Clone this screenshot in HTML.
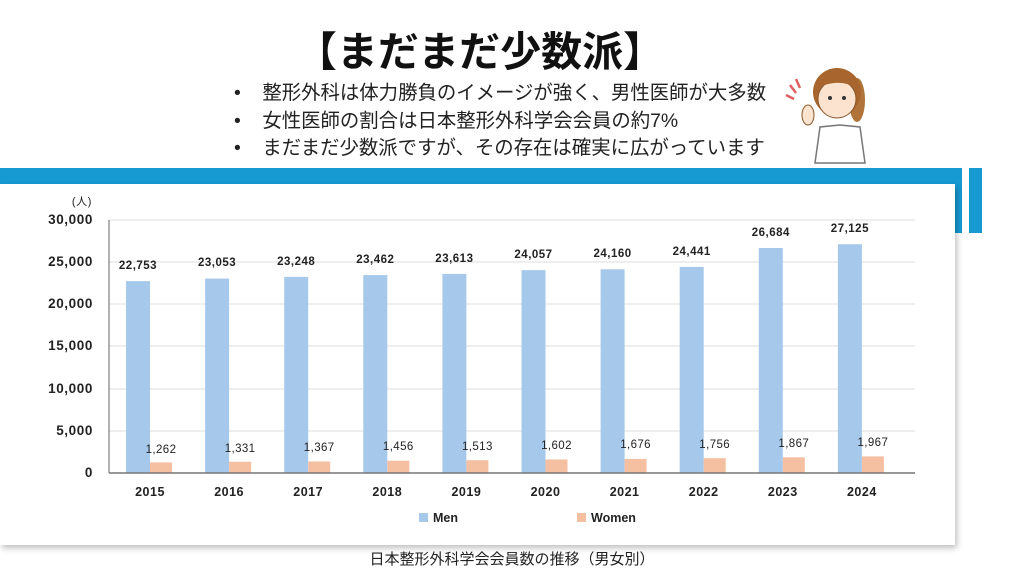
<!DOCTYPE html>
<html><head><meta charset="utf-8"><style>
body{margin:0;width:1024px;height:576px;background:#fff;position:relative;overflow:hidden;font-family:"Liberation Sans","Noto Sans CJK JP",sans-serif}
.t{position:absolute;white-space:nowrap}
</style></head><body>
<div class="t" style="left:0;width:960px;top:18px;text-align:center;font-size:41px;font-weight:bold;color:#111">【まだまだ少数派】</div>
<div class="t" style="left:234px;top:80px;font-size:19.4px;line-height:27.5px;color:#222">
•&nbsp;&nbsp;&nbsp;&nbsp;整形外科は体力勝負のイメージが強く、男性医師が大多数<br>
•&nbsp;&nbsp;&nbsp;&nbsp;女性医師の割合は日本整形外科学会会員の約7%<br>
•&nbsp;&nbsp;&nbsp;&nbsp;まだまだ少数派ですが、その存在は確実に広がっています</div>
<svg style="position:absolute;left:780px;top:55px" width="100" height="110">
<path d="M60 70 L40 72 L35 108 L85 108 L80 72 Z" fill="#fff" stroke="#777" stroke-width="1.5"/>
<ellipse cx="77" cy="45" rx="8" ry="22" fill="#b0743a"/>
<circle cx="57" cy="37" r="24" fill="#a8662e"/>
<ellipse cx="57" cy="44" rx="19" ry="19" fill="#fbe3cf" stroke="#8a5528"/>
<path d="M37 33 Q55 10 78 34 Q60 22 37 33Z" fill="#a8662e"/>
<circle cx="50" cy="43" r="2" fill="#333"/><circle cx="64" cy="43" r="2" fill="#333"/>
<ellipse cx="28" cy="60" rx="6" ry="10" fill="#fbe3cf" stroke="#8a5528"/>
<path d="M10 30 l6 8 M6 40 l8 4 M16 24 l4 9" stroke="#e06060" stroke-width="2.5"/>
</svg>
<div style="position:absolute;left:0;top:168px;width:962px;height:16px;background:#1799d2"></div>
<div style="position:absolute;left:955px;top:168px;width:7px;height:65px;background:#1799d2"></div>
<div style="position:absolute;left:969px;top:168px;width:13px;height:65px;background:#1799d2"></div>
<div style="position:absolute;left:0;top:184px;width:955px;height:361px;background:#fff;box-shadow:2px 3px 6px rgba(0,0,0,0.25)"></div>
<svg style="position:absolute;left:0;top:0" width="1024" height="576" font-family="Liberation Sans, Noto Sans CJK JP, sans-serif">
<g stroke="#ddd" stroke-width="1">
<line x1="109" x2="915" y1="220" y2="220"/><line x1="109" x2="915" y1="262" y2="262"/><line x1="109" x2="915" y1="304" y2="304"/><line x1="109" x2="915" y1="346" y2="346"/><line x1="109" x2="915" y1="389" y2="389"/><line x1="109" x2="915" y1="431" y2="431"/></g>
<line x1="109" x2="109" y1="220" y2="473" stroke="#666"/>
<g font-size="13.5" font-weight="bold" fill="#222" text-anchor="end" letter-spacing="0.6">
<text x="93" y="224">30,000</text><text x="93" y="266">25,000</text><text x="93" y="308">20,000</text><text x="93" y="350">15,000</text><text x="93" y="393">10,000</text><text x="93" y="435">5,000</text><text x="93" y="477">0</text>
<text x="92" y="205" font-weight="normal" font-size="11">(人)</text></g>
<g fill="#a6c9eb">
<rect x="126" y="281.1" width="24" height="191.9"/>
<rect x="205.1" y="278.6" width="24" height="194.4"/>
<rect x="284.2" y="276.9" width="24" height="196.1"/>
<rect x="363.3" y="275.1" width="24" height="197.9"/>
<rect x="442.4" y="273.9" width="24" height="199.1"/>
<rect x="521.5" y="270.1" width="24" height="202.9"/>
<rect x="600.6" y="269.3" width="24" height="203.7"/>
<rect x="679.7" y="266.9" width="24" height="206.1"/>
<rect x="758.8" y="248.0" width="24" height="225.0"/>
<rect x="837.9" y="244.2" width="24" height="228.8"/>
</g>
<g fill="#f5bfa1">
<rect x="150" y="462.4" width="22" height="10.6"/>
<rect x="229.1" y="461.8" width="22" height="11.2"/>
<rect x="308.2" y="461.5" width="22" height="11.5"/>
<rect x="387.3" y="460.7" width="22" height="12.3"/>
<rect x="466.4" y="460.2" width="22" height="12.8"/>
<rect x="545.5" y="459.5" width="22" height="13.5"/>
<rect x="624.6" y="458.9" width="22" height="14.1"/>
<rect x="703.7" y="458.2" width="22" height="14.8"/>
<rect x="782.8" y="457.3" width="22" height="15.7"/>
<rect x="861.9" y="456.4" width="22" height="16.6"/>
</g>
<line x1="109" x2="915" y1="473" y2="473" stroke="#777" stroke-width="1.5"/>
<g font-size="11.5" font-weight="bold" text-anchor="middle" fill="#222" letter-spacing="0.5">
<text x="138" y="269">22,753</text><text x="217.1" y="266">23,053</text><text x="296.2" y="265">23,248</text><text x="375.3" y="263">23,462</text><text x="454.4" y="262">23,613</text><text x="533.5" y="258">24,057</text><text x="612.6" y="257">24,160</text><text x="691.7" y="255">24,441</text><text x="770.8" y="236">26,684</text><text x="849.9" y="232">27,125</text>
</g>
<g font-size="11.5" text-anchor="middle" fill="#222" letter-spacing="0.4">
<text x="161" y="453">1,262</text><text x="240.1" y="452">1,331</text><text x="319.2" y="451">1,367</text><text x="398.3" y="450">1,456</text><text x="477.4" y="450">1,513</text><text x="556.5" y="449">1,602</text><text x="635.6" y="448">1,676</text><text x="714.7" y="448">1,756</text><text x="793.8" y="447">1,867</text><text x="872.9" y="446">1,967</text>
</g>
<g font-size="12.5" font-weight="bold" text-anchor="middle" fill="#222" letter-spacing="0.5">
<text x="150" y="496">2015</text><text x="229.1" y="496">2016</text><text x="308.2" y="496">2017</text><text x="387.3" y="496">2018</text><text x="466.4" y="496">2019</text><text x="545.5" y="496">2020</text><text x="624.6" y="496">2021</text><text x="703.7" y="496">2022</text><text x="782.8" y="496">2023</text><text x="861.9" y="496">2024</text>
</g>
<g font-size="12.5" font-weight="bold" fill="#222">
<rect x="419" y="513" width="9" height="9" fill="#a6c9eb"/><text x="433" y="522">Men</text>
<rect x="577" y="513" width="9" height="9" fill="#f5bfa1"/><text x="591" y="522">Women</text></g>
<text x="512" y="564" font-size="15" text-anchor="middle" fill="#222">日本整形外科学会会員数の推移（男女別）</text>
</svg>
</body></html>
